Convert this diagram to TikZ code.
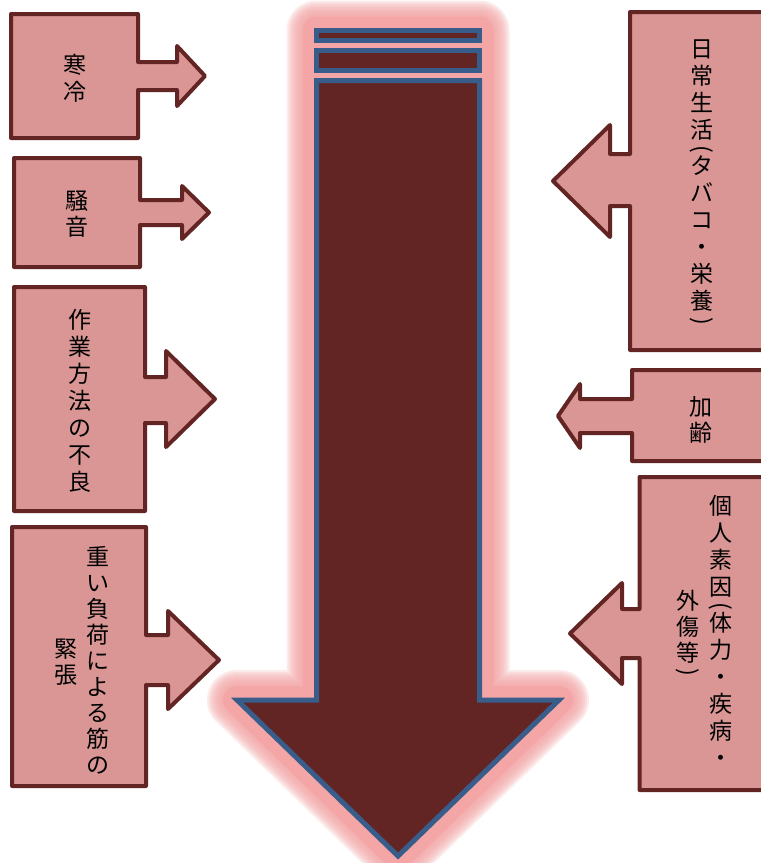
\documentclass[tikz,border=0pt]{standalone}
\usepackage{fontspec}
\usepackage{graphicx}
\newfontfamily\cjk{Noto Sans CJK JP}
\definecolor{boxfill}{RGB}{217,150,148}
\definecolor{boxline}{RGB}{99,37,35}
\definecolor{arrowfill}{RGB}{99,37,35}
\definecolor{arrowline}{RGB}{56,93,138}
\definecolor{glowpink}{RGB}{244,166,166}
\newcommand{\vpl}{\rotatebox[origin=c]{-90}{(}}
\newcommand{\vpr}{\rotatebox[origin=c]{-90}{)}}
\begin{document}
\begin{tikzpicture}[x=1pt,y=-1pt,
  callout/.style={fill=boxfill, draw=boxline, line width=4pt, line join=round},
  bigarrow/.style={fill=arrowfill, draw=arrowline, line width=5pt, line join=miter},
  vtext/.style={font=\cjk\fontsize{23}{27}\selectfont, align=center, inner sep=0pt, text=black},
  vtextb/.style={vtext, font=\cjk\fontsize{23}{26}\selectfont}]
\useasboundingbox (0,0) rectangle (761,863);
\clip (0,0) rectangle (761,863);
\fill[white] (0,0) rectangle (761,863);
% glow
\def\glowpath{(316.5,30.5) -- (479.5,30.5) -- (479.5,700) -- (559,700) -- (398,856) -- (237,700) -- (316.5,700) -- cycle}
\draw[glowpink, fill=glowpink, line width=28pt, line join=round] \glowpath;
\foreach \w in {32,36,...,60}{
  \draw[glowpink, opacity=0.22, line width=\w pt, line join=round] \glowpath;
}
% main arrow
\draw[bigarrow] (316.5,30.5) rectangle (479.5,40.5);
\draw[bigarrow] (316.5,50.5) rectangle (479.5,70.5);
\draw[bigarrow] (316.5,80.5) -- (316.5,700) -- (237,700) -- (398,856) -- (559,700) -- (479.5,700) -- (479.5,80.5) -- cycle;
% left callouts
\draw[callout] (11,14) -- (138,14) -- (138,62) -- (177,62) -- (177,46) -- (205,76) -- (177,106) -- (177,90) -- (138,90) -- (138,138) -- (11,138) -- cycle;
\draw[callout] (14,158) -- (140,158) -- (140,200) -- (182,200) -- (182,186) -- (209,212.5) -- (182,239) -- (182,225) -- (140,225) -- (140,267) -- (14,267) -- cycle;
\draw[callout] (14,287) -- (145,287) -- (145,377) -- (166,377) -- (166,351) -- (215,399) -- (166,447) -- (166,423) -- (145,423) -- (145,511) -- (14,511) -- cycle;
\draw[callout] (12,527) -- (146,527) -- (146,635) -- (168,635) -- (168,611) -- (219,660) -- (168,709) -- (168,685) -- (146,685) -- (146,786) -- (12,786) -- cycle;
% right callouts
\draw[callout] (780,12) -- (630,12) -- (630,154) -- (610,154) -- (610,125) -- (553,181) -- (610,237) -- (610,206) -- (630,206) -- (630,350) -- (780,350) -- cycle;
\draw[callout] (780,370) -- (632,370) -- (632,399) -- (580,399) -- (580,384) -- (558,416) -- (580,448) -- (580,433) -- (632,433) -- (632,461) -- (780,461) -- cycle;
\draw[callout] (780,477) -- (639.5,477) -- (639.5,609) -- (622,609) -- (622,583) -- (570,633.5) -- (622,684) -- (622,658) -- (639.5,658) -- (639.5,790) -- (780,790) -- cycle;
% texts
\node[vtext] (tcold) at (75,78) {寒\\冷};
\node[vtextb] (tnoise) at (77,214) {騒\\音};
\node[vtext] (tmethod) at (79.5,401) {作\\業\\方\\法\\の\\不\\良};
\node[vtextb] (tload1) at (97.5,660) {重\\い\\負\\荷\\に\\よ\\る\\筋\\の};
\node[vtextb] (tload2) at (66,662) {緊\\張};
\node[vtext] (tdaily) at (702,184) {日\\常\\生\\活\\[-9pt]\vpl\\[-9pt]タ\\バ\\コ\\・\\栄\\養\\[-7.5pt]\vpr};
\node[vtextb] (tage) at (701,420) {加\\齢};
\node[vtext] (tpers1) at (721,631) {個\\人\\素\\因\\[-9pt]\vpl\\[-9pt]体\\力\\・\\疾\\病\\・};
\node[vtextb] (tpers2) at (687.5,635) {外\\傷\\等\\[-7.5pt]\vpr};
\end{tikzpicture}
\end{document}
